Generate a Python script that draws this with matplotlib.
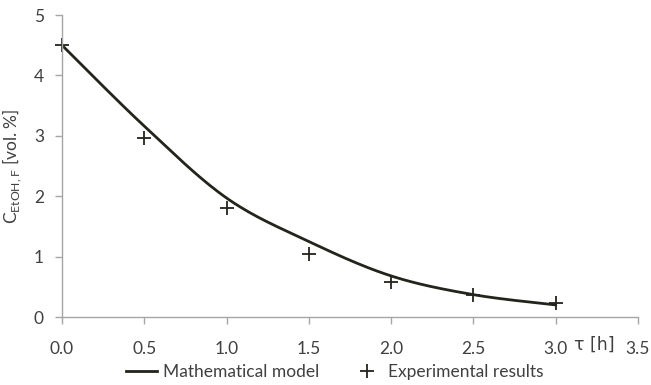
import numpy as np
import matplotlib
matplotlib.use("Agg")
import matplotlib.pyplot as plt
from matplotlib.lines import Line2D

tau = [0.0, 0.5, 1.0, 1.5, 2.0, 2.5, 3.0]
model = [4.5, 3.16, 1.97, 1.25, 0.68, 0.37, 0.20]
experiment = [4.5, 2.97, 1.81, 1.05, 0.58, 0.37, 0.24]
xticks = [0.0, 0.5, 1.0, 1.5, 2.0, 2.5, 3.0, 3.5]
yticks = [0, 1, 2, 3, 4, 5]

plt.rcParams['font.family'] = ['Lato', 'DejaVu Sans']
dark = '#24241c'
grey = '#a6a6a6'
txt = '#404040'
fs = 12.5


def smooth(xs, ys, n=30):
    # Catmull-Rom style smoothing like a spreadsheet "smoothed line"
    xs = np.asarray(xs, float); ys = np.asarray(ys, float)
    px = np.concatenate([[xs[0]], xs, [xs[-1]]])
    py = np.concatenate([[ys[0]], ys, [ys[-1]]])
    ox, oy = [], []
    t = np.linspace(0, 1, n)
    for i in range(1, len(px) - 2):
        p0x, p1x, p2x, p3x = px[i-1], px[i], px[i+1], px[i+2]
        p0y, p1y, p2y, p3y = py[i-1], py[i], py[i+1], py[i+2]
        c1x = p1x + (p2x - p0x) / 6; c1y = p1y + (p2y - p0y) / 6
        c2x = p2x - (p3x - p1x) / 6; c2y = p2y - (p3y - p1y) / 6
        bx = (1-t)**3*p1x + 3*(1-t)**2*t*c1x + 3*(1-t)*t**2*c2x + t**3*p2x
        by = (1-t)**3*p1y + 3*(1-t)**2*t*c1y + 3*(1-t)*t**2*c2y + t**3*p2y
        ox.extend(bx); oy.extend(by)
    return np.array(ox), np.array(oy)


fig = plt.figure(figsize=(6.51, 3.85), dpi=100)
ax = fig.add_axes([62/651, 1 - 317/385, (638-62)/651, (317-15)/385])

sx, sy = smooth(tau, model)
ax.plot(sx, sy, color=dark, lw=2.0, solid_capstyle='round')
ax.plot(tau, experiment, linestyle='none', marker='+', markersize=10,
        markeredgewidth=1.3, color=dark, clip_on=False)

ax.set_xlim(0, 3.5)
ax.set_ylim(0, 5)
ax.set_xticks(xticks)
ax.set_xticklabels([f"{v:.1f}" for v in xticks])
ax.set_yticks(yticks)
for s in ['top', 'right']:
    ax.spines[s].set_visible(False)
for s in ['left', 'bottom']:
    ax.spines[s].set_color(grey)
    ax.spines[s].set_linewidth(1.0)
ax.tick_params(axis='both', colors=grey, labelcolor=txt,
               labelsize=fs, length=5, width=1.0, direction='out')
ax.tick_params(axis='x', pad=12)
ax.tick_params(axis='y', pad=8)

ax.set_ylabel(r'C$_{\mathregular{EtOH,F}}$ [vol. %]', fontsize=fs, color=txt,
              labelpad=7)
fig.text(594/651, 1 - 345/385, 'τ [h]', fontsize=fs, color=txt,
         ha='center', va='center', family=['DejaVu Sans'])

handles = [Line2D([], [], color=dark, lw=2.0),
           Line2D([], [], color=dark, marker='+', linestyle='none',
                  markersize=10, markeredgewidth=1.3)]
fig.legend(handles, ['Mathematical model', 'Experimental results'],
           loc='center', bbox_to_anchor=(335/651, 1 - 372/385), ncol=2,
           frameon=False, fontsize=fs, handlelength=1.8, handletextpad=0.3,
           columnspacing=1.9, labelcolor=txt)

fig.savefig('out.png', dpi=100)
